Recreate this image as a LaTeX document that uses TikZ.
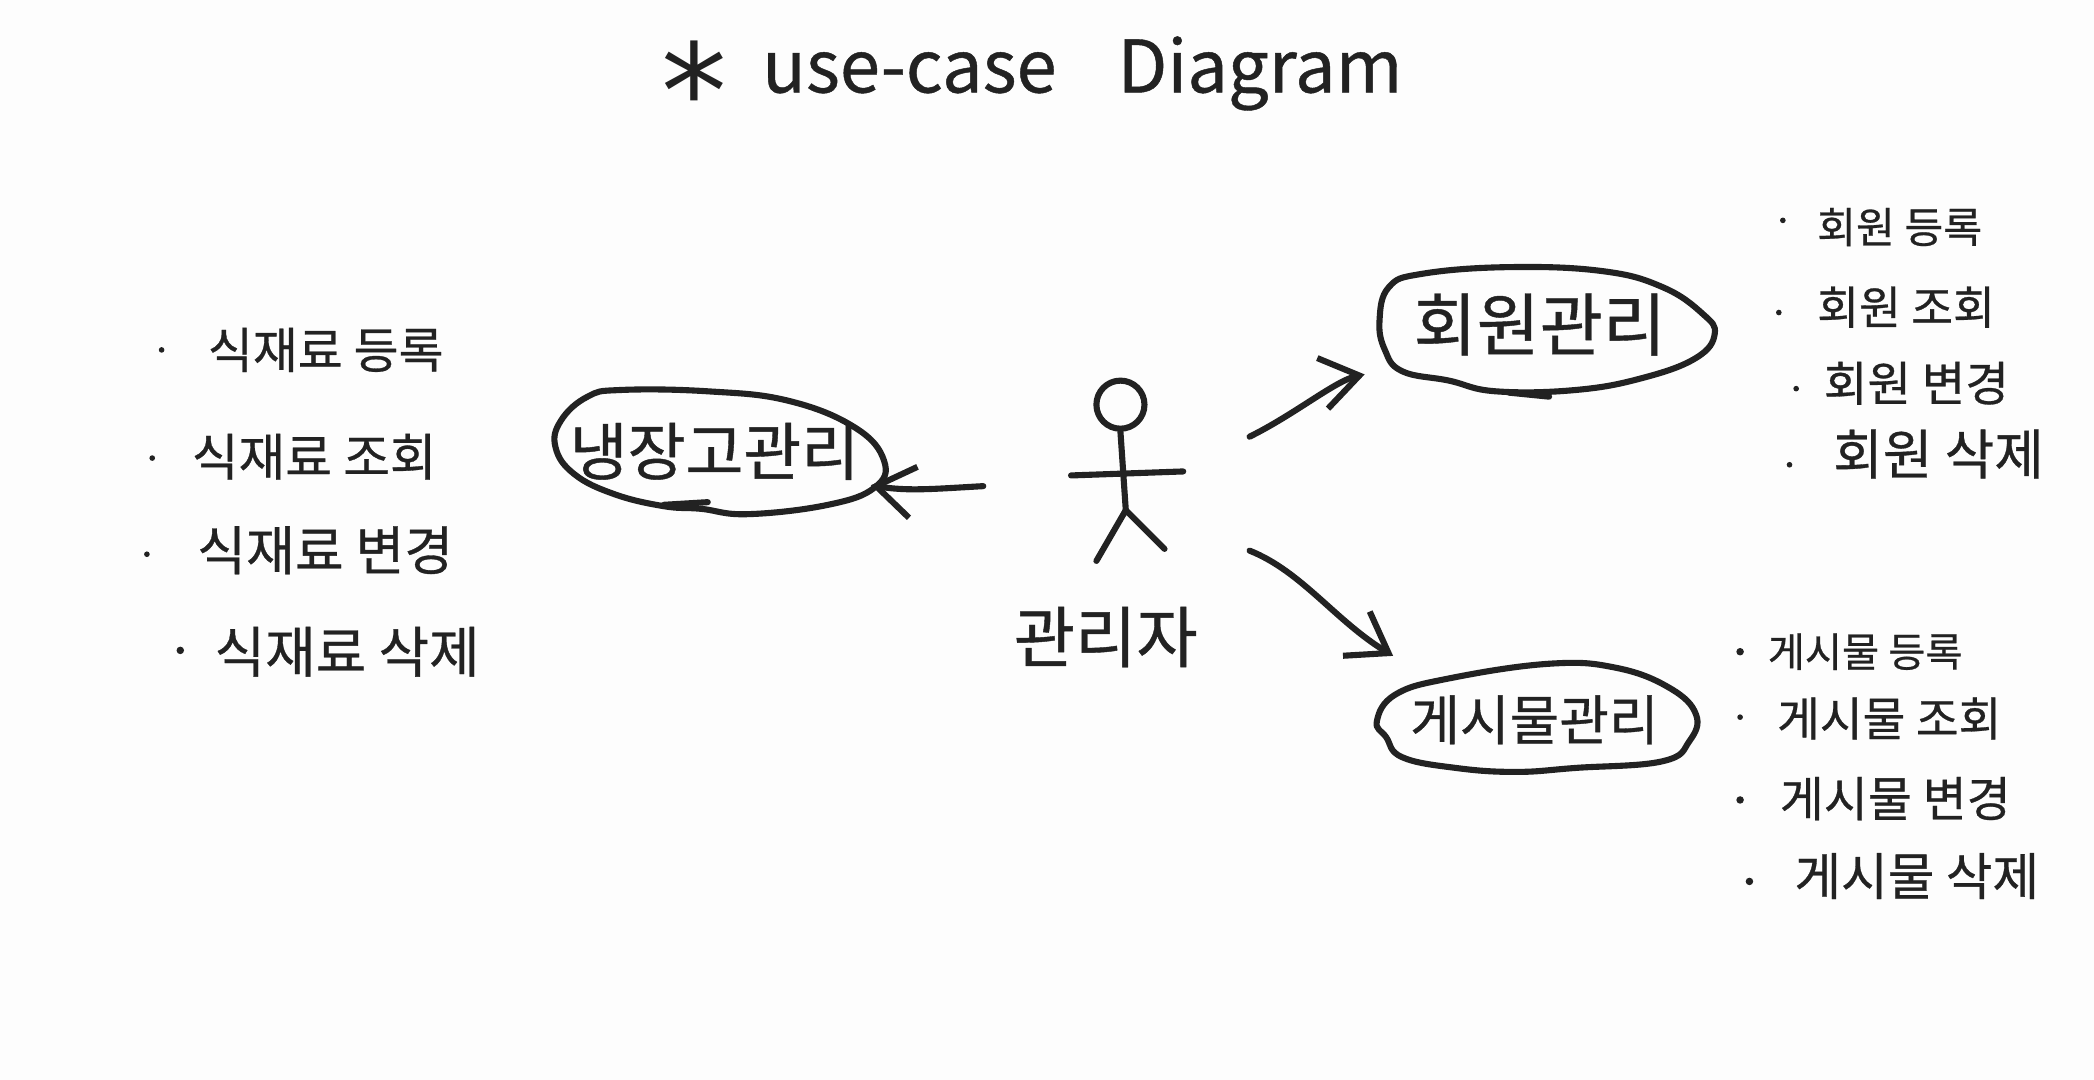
\documentclass[tikz,border=0pt]{standalone}
\usepackage{fontspec}
\setmainfont{Noto Sans CJK KR}[FakeBold=0.6]
\newfontfamily\starfont{DejaVu Sans}
\usetikzlibrary{shapes.geometric, arrows.meta, positioning}
\definecolor{ink1}{RGB}{34, 34, 34}
\definecolor{paper1}{RGB}{253, 253, 253}
\tikzset{
  pen/.style={draw=ink1, line width=1.3pt, line cap=round, line join=round},
  flow/.style={pen, -{Straight Barb[length=8pt, width=11pt, line width=1.3pt]}},
  casenode/.style={ellipse, inner sep=0pt, text=ink1},
  itemtext/.style={anchor=west, inner sep=0pt, text=ink1},
  itemdot/.style={circle, fill=ink1, inner sep=0pt, minimum size=1.2pt}
}

\begin{document}
\begin{tikzpicture}[x=0.01cm, y=-0.01cm]
  \fill[paper1] (0,0) rectangle (1568,808.7);
  \useasboundingbox (0,0) rectangle (1568,808.7);

  % title
  \node[inner sep=0pt, text=ink1, font=\starfont\fontsize{28pt}{28pt}\selectfont] (titlestar) at (520,67) {*};
  \node[anchor=west, inner sep=0pt, text=ink1, font=\fontsize{15.4pt}{18pt}\selectfont] (title) at (570,55) {use-case\hspace{13pt}Diagram};

  % actor
  \node[minimum width=198*0.01cm, minimum height=140*0.01cm, inner sep=0pt] (actor) at (836,350) {};
  \node[circle, pen, minimum size=36*0.01cm, inner sep=0pt] (head) at (839,303) {};
  \coordinate (hip) at (843,382);
  \draw[pen] (head.south) -- (hip);
  \draw[pen] (802,356) -- (886,353);
  \draw[pen] (821,420) -- (hip) -- (872,411);
  \node[inner sep=0pt, text=ink1, font=\fontsize{14.2pt}{16pt}\selectfont] (actorname) at (828,477) {관리자};

  % use cases
  \node[casenode, minimum width=250*0.01cm, minimum height=94*0.01cm, font=\fontsize{13.4pt}{15pt}\selectfont] (fridge) at (535,338) {냉장고관리};
  \node[casenode, minimum width=252*0.01cm, minimum height=94*0.01cm, font=\fontsize{14.6pt}{16pt}\selectfont] (member) at (1153,243) {회원관리};
  \node[casenode, minimum width=240*0.01cm, minimum height=80*0.01cm, font=\fontsize{11.5pt}{13pt}\selectfont] (post) at (1149,539) {게시물관리};

  \draw[pen] plot[smooth cycle, tension=0.7] coordinates {(440,297) (465,292) (530,293) (590,300) (640,320) (662,345) (655,365) (620,378) (560,385) (525,381) (497,379) (460,370) (430,355) (416,335) (420,315)};
  \draw[pen] (497,378) -- (530,376);
  \draw[pen] plot[smooth cycle, tension=0.7] coordinates {(1033,240) (1040,215) (1065,205) (1130,200) (1200,203) (1245,215) (1275,235) (1284,250) (1270,268) (1230,283) (1180,292) (1120,293) (1085,285) (1050,278) (1037,262)};
  \draw[pen] (1130,294) -- (1160,297);
  \draw[pen] plot[smooth cycle, tension=0.7] coordinates {(1031,540) (1045,520) (1085,508) (1160,497) (1210,500) (1250,515) (1270,535) (1265,555) (1245,570) (1180,575) (1135,578) (1090,575) (1050,567) (1038,552)};

  \draw[flow, shorten >=-10*0.01cm] (actor.188) .. controls (700,366) and (680,368) .. (fridge.-12);
  \draw[flow, shorten >=30*0.01cm] (actor.13) .. controls (970,310) and (1000,285) .. (member.197);
  \draw[flow, shorten >=30*0.01cm] (actor.-32) .. controls (975,428) and (1000,465) .. (post.158);

  % fridge list
  \node[itemdot] (dot11) at (121,262) {};
  \node[itemtext, font=\fontsize{10.4pt}{12pt}\selectfont] (item11) at (155,262) {식재료 등록};
  \node[itemdot] (dot12) at (114,343) {};
  \node[itemtext, font=\fontsize{10.8pt}{12pt}\selectfont] (item12) at (143,342) {식재료 조회};
  \node[itemdot] (dot13) at (110,415) {};
  \node[itemtext, font=\fontsize{11.3pt}{13pt}\selectfont] (item13) at (147,412) {식재료 변경};
  \node[itemdot, minimum size=1.6pt] (dot14) at (135,487) {};
  \node[itemtext, font=\fontsize{11.7pt}{13pt}\selectfont] (item14) at (160,488) {식재료 삭제};

  % member list
  \node[itemdot] (dot21) at (1335,165) {};
  \node[itemtext, font=\fontsize{9pt}{10pt}\selectfont] (item21) at (1360,170) {회원 등록};
  \node[itemdot] (dot22) at (1332,234) {};
  \node[itemtext, font=\fontsize{9.7pt}{11pt}\selectfont] (item22) at (1360,230) {회원 조회};
  \node[itemdot] (dot23) at (1345,291) {};
  \node[itemtext, font=\fontsize{10.1pt}{11pt}\selectfont] (item23) at (1365,287) {회원 변경};
  \node[itemdot] (dot24) at (1340,348) {};
  \node[itemtext, font=\fontsize{11.5pt}{13pt}\selectfont] (item24) at (1372,340) {회원 삭제};

  % post list
  \node[itemdot, minimum size=1.6pt] (dot31) at (1303,488) {};
  \node[itemtext, font=\fontsize{8.6pt}{10pt}\selectfont] (item31) at (1323,488) {게시물 등록};
  \node[itemdot] (dot32) at (1303,537) {};
  \node[itemtext, font=\fontsize{9.9pt}{11pt}\selectfont] (item32) at (1330,538) {게시물 조회};
  \node[itemdot, minimum size=1.6pt] (dot33) at (1303,599) {};
  \node[itemtext, font=\fontsize{10.2pt}{11pt}\selectfont] (item33) at (1332,598) {게시물 변경};
  \node[itemdot, minimum size=1.6pt] (dot34) at (1310,660) {};
  \node[itemtext, font=\fontsize{10.8pt}{12pt}\selectfont] (item34) at (1343,656) {게시물 삭제};
\end{tikzpicture}
\end{document}
